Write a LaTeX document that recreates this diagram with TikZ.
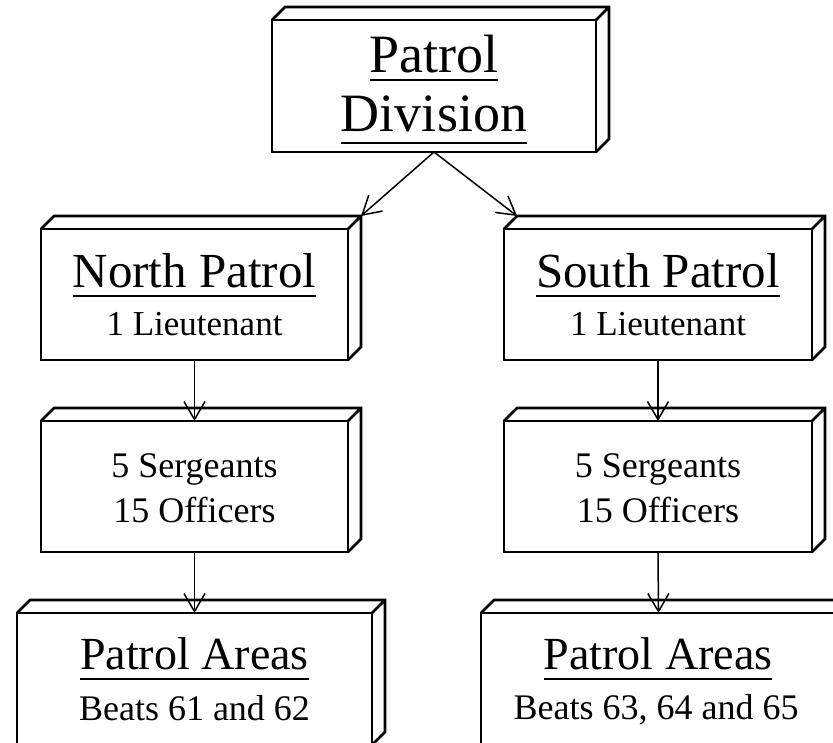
\documentclass[tikz,border=0pt]{standalone}
\usepackage{fontspec}
\setmainfont{Liberation Serif}
\usetikzlibrary{arrows.meta,calc}
\newcommand{\myul}[2][8]{\setbox0\hbox{#2}\rlap{\rule[-\dimexpr #1pt+1.4pt\relax]{\wd0}{2.8pt}}\box0}
\tikzset{
  box/.style={draw, line width=2.8pt, rectangle, inner sep=0pt, outer sep=0pt},
  edge3d/.style={line width=2.8pt},
  conn/.style={line width=1.5pt, -{Straight Barb[length=18pt,width=21pt,line width=1.5pt]}},
  txt/.style={anchor=base, inner sep=0pt, outer sep=0pt},
}
\begin{document}
\begin{tikzpicture}[x=1pt,y=-1pt]
\useasboundingbox (0,0) rectangle (833,743);
\clip (0,0) rectangle (833,743);
% boxes (front faces)
\node[box, minimum width=324pt, minimum height=132pt] (top) at (434,86) {};
\node[box, minimum width=307pt, minimum height=131pt] (north) at (194.5,294.5) {};
\node[box, minimum width=308pt, minimum height=131pt] (south) at (658,294.5) {};
\node[box, minimum width=307pt, minimum height=131pt] (nser) at (194.5,486.5) {};
\node[box, minimum width=308pt, minimum height=131pt] (sser) at (658,486.5) {};
\node[box, minimum width=355pt, minimum height=132pt] (narea) at (194.5,679) {};
\node[box, minimum width=355pt, minimum height=132pt] (sarea) at (658.5,679) {};
% 3D edges
\foreach \n in {top,north,south,nser,sser,narea,sarea}{
  \draw[edge3d] (\n.north west) -- ++(13,-13) -- ($(\n.north east)+(13,-13)$)
     -- ($(\n.south east)+(13,-13)$) -- (\n.south east)
     (\n.north east) -- ++(13,-13);
}
% texts
\node[txt, font=\fontsize{54}{54}\selectfont] (t1) at (434,73) {\myul[7]{Patrol}};
\node[txt, font=\fontsize{54}{54}\selectfont] (t2) at (434,132) {\myul[11]{Division}};
\node[txt, font=\fontsize{49}{49}\selectfont] (n1) at (194.5,288) {\myul[8]{North Patrol}};
\node[txt, font=\fontsize{35}{35}\selectfont] (n2) at (194.5,336) {1 Lieutenant};
\node[txt, font=\fontsize{49}{49}\selectfont] (s1) at (658,288) {\myul[8]{South Patrol}};
\node[txt, font=\fontsize{35}{35}\selectfont] (s2) at (658,336) {1 Lieutenant};
\node[txt, font=\fontsize{36}{36}\selectfont] (ns1) at (194.5,477) {5 Sergeants};
\node[txt, font=\fontsize{36}{36}\selectfont] (ns2) at (194.5,522) {15 Officers};
\node[txt, font=\fontsize{36}{36}\selectfont] (ss1) at (658,477) {5 Sergeants};
\node[txt, font=\fontsize{36}{36}\selectfont] (ss2) at (658,522) {15 Officers};
\node[txt, font=\fontsize{46}{46}\selectfont] (na1) at (194.5,669) {\myul[10]{Patrol Areas}};
\node[txt, font=\fontsize{36}{36}\selectfont] (na2) at (194.5,720) {Beats 61 and 62};
\node[txt, font=\fontsize{46}{46}\selectfont] (sa1) at (658,669) {\myul[10]{Patrol Areas}};
\node[txt, font=\fontsize{36}{36}\selectfont] (sa2) at (656,719) {Beats 63, 64 and 65};
% back corners
\coordinate (nback) at ($(north.north east)+(13,-13)$);
\coordinate (sback) at ($(south.north west)+(13,-13)$);
% connectors
\draw[conn] (top.south) -- (nback);
\draw[conn] (top.south) -- (sback);
\draw[conn] (north.south) -- (nser.north);
\draw[conn] (nser.south) -- (narea.north);
\draw[conn] (south.south) -- (sser.north);
\draw[conn] (sser.south) -- (sarea.north);
\end{tikzpicture}
\end{document}
